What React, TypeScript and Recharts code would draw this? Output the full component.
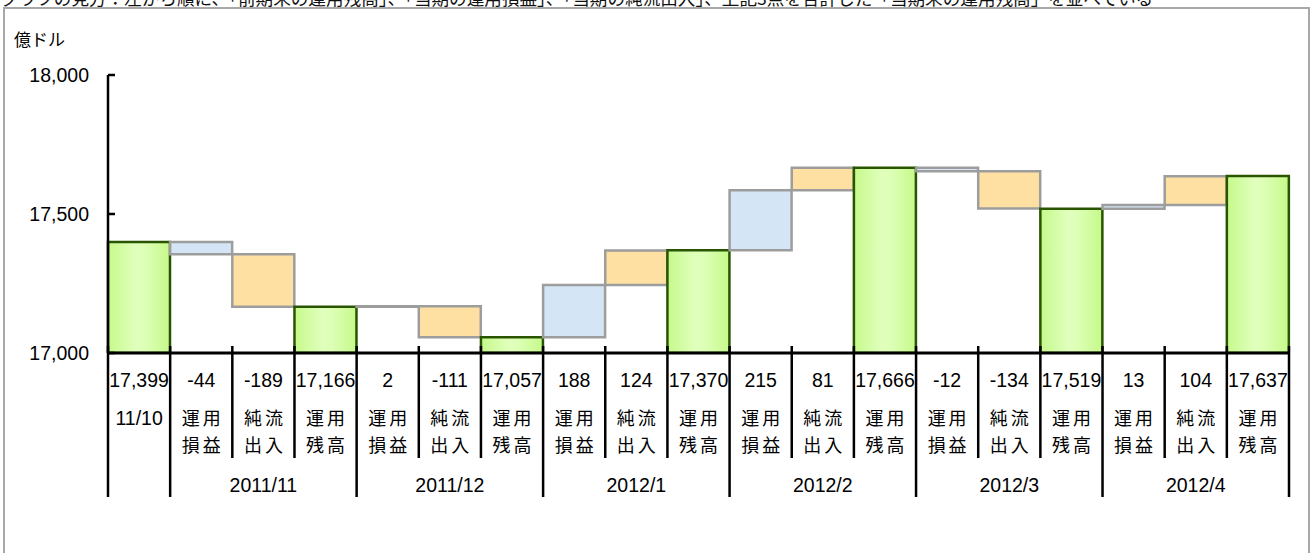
import React from "react";
import { BarChart, Bar, XAxis, YAxis, Cell } from "recharts";

// 運用残高の推移（億ドル）
const startLabel = "11/10";
const startBalance = 17399;
const months = ["2011/11", "2011/12", "2012/1", "2012/2", "2012/3", "2012/4"];
const gains = [-44, 2, 188, 215, -12, 13]; // 運用損益
const netFlows = [-189, -111, 124, 81, -134, 104]; // 純流出入
const endBalances = [17166, 17057, 17370, 17666, 17519, 17637]; // 運用残高
const yTicks = [17000, 17500, 18000];

const caption =
  "グラフの見方：左から順に、「前期末の運用残高」、「当期の運用損益」、「当期の純流出入」、上記3点を合計した「当期末の運用残高」を並べている";

const BASE = yTicks[0];
const NUM_FONT = "'Liberation Sans', Arial, sans-serif";
const JP_FONT = "'Noto Sans CJK JP', 'Noto Sans', sans-serif";

type Row = { key: string; kind: "balance" | "gain" | "flow"; value: number; range: [number, number]; lines: string[]; month?: string };

const rows: Row[] = [{ key: "start", kind: "balance", value: startBalance, range: [BASE, startBalance], lines: [startLabel] }];
let prev = startBalance;
months.forEach((m, i) => {
  const afterGain = prev + gains[i];
  const afterFlow = afterGain + netFlows[i];
  rows.push({ key: m + "-g", kind: "gain", value: gains[i], range: [Math.min(prev, afterGain), Math.max(prev, afterGain)], lines: ["運用", "損益"] });
  rows.push({ key: m + "-f", kind: "flow", value: netFlows[i], range: [Math.min(afterGain, afterFlow), Math.max(afterGain, afterFlow)], lines: ["純流", "出入"], month: m });
  rows.push({ key: m + "-b", kind: "balance", value: endBalances[i], range: [BASE, endBalances[i]], lines: ["運用", "残高"] });
  prev = endBalances[i];
});

const CHART_W = 1313;
const CHART_H = 553;
const LEFT = 108;
const RIGHT = 24;
const CAT_W = (CHART_W - LEFT - RIGHT) / rows.length;

const fmt = (r: Row) => (r.kind === "balance" ? r.value.toLocaleString("en-US") : String(r.value));

const fills = { balance: "url(#greenFill)", gain: "#d4e5f6", flow: "#ffe0a3" };
const strokes = { balance: "#2a5500", gain: "#9d9d9d", flow: "#9d9d9d" };

function TableTick(props: any) {
  const { x, y, payload } = props;
  const i = payload.index;
  const r = rows[i];
  const left = x - CAT_W / 2;
  const right = x + CAT_W / 2;
  const isLong = (k: number) => k === 0 || (k - 1) % 3 === 0 || k === rows.length;
  const edge = (ex: number, k: number) => (
    <line x1={ex} x2={ex} y1={y - 7} y2={y + (isLong(k) ? 144 : 105)} stroke="#000" strokeWidth={2.5} />
  );
  return (
    <g>
      {edge(left, i)}
      {i === rows.length - 1 && edge(right, i + 1)}
      <text x={x} y={y + 34} textAnchor="middle" fontFamily={NUM_FONT} fontSize={19.5} fill="#000">
        {fmt(r)}
      </text>
      {r.lines.map((t, k) => (
        <text
          key={k}
          x={x + (i === 0 ? 0 : 1.5)}
          y={y + 72 + k * 27}
          textAnchor="middle"
          fontFamily={i === 0 ? NUM_FONT : JP_FONT}
          fontSize={i === 0 ? 19.5 : 18}
          letterSpacing={i === 0 ? 0 : 3}
          fill="#000"
        >
          {t}
        </text>
      ))}
      {r.month && (
        <text x={x} y={y + 139} textAnchor="middle" fontFamily={NUM_FONT} fontSize={19.5} fill="#000">
          {r.month}
        </text>
      )}
    </g>
  );
}

function ValueTick(props: any) {
  const { y, payload } = props;
  return (
    <g>
      <text x={89} y={y} dy={7} textAnchor="end" fontFamily={NUM_FONT} fontSize={19.5} fill="#000">
        {payload.value.toLocaleString("en-US")}
      </text>
      <line x1={LEFT} x2={LEFT + 7} y1={y} y2={y} stroke="#000" strokeWidth={2.5} />
    </g>
  );
}

export default function App() {
  return (
    <div style={{ position: "absolute", left: 0, top: 0, width: CHART_W, height: CHART_H, overflow: "hidden", background: "#fff" }}>
      <div
        style={{
          position: "absolute",
          left: 1,
          top: -11,
          fontFamily: JP_FONT,
          fontSize: 17.6,
          lineHeight: "18px",
          whiteSpace: "nowrap",
          color: "#111",
        }}
      >
        {caption}
      </div>
      <div
        style={{
          position: "absolute",
          left: 3,
          top: 7,
          width: 1303,
          height: 600,
          border: "2px solid #a8a8a8",
          background: "#fff",
        }}
      />
      <div style={{ position: "absolute", left: 14, top: 26, fontFamily: JP_FONT, fontSize: 17, color: "#000" }}>億ドル</div>
      <div style={{ position: "absolute", left: 0, top: 0 }}>
        <BarChart
          width={CHART_W}
          height={CHART_H}
          data={rows}
          margin={{ top: 75, right: RIGHT, left: 0, bottom: 0 }}
          barCategoryGap={0}
          barGap={0}
        >
          <defs>
            <linearGradient id="greenFill" x1="0" y1="0" x2="1" y2="0">
              <stop offset="0%" stopColor="#c6f98a" />
              <stop offset="45%" stopColor="#e0ffbd" />
              <stop offset="60%" stopColor="#ddffb6" />
              <stop offset="100%" stopColor="#c6f98a" />
            </linearGradient>
          </defs>
          <YAxis
            width={LEFT}
            domain={[yTicks[0], yTicks[yTicks.length - 1]]}
            ticks={yTicks}
            allowDataOverflow
            axisLine={{ stroke: "#000", strokeWidth: 2.5 }}
            tickLine={false}
            tick={<ValueTick />}
          />
          <XAxis
            dataKey="key"
            height={200}
            interval={0}
            tickSize={0}
            tickMargin={0}
            tickLine={false}
            axisLine={{ stroke: "#000", strokeWidth: 3 }}
            tick={<TableTick />}
          />
          <Bar dataKey="range" isAnimationActive={false}>
            {rows.map((r) => (
              <Cell key={r.key} fill={fills[r.kind]} stroke={strokes[r.kind]} strokeWidth={2.5} />
            ))}
          </Bar>
        </BarChart>
      </div>
    </div>
  );
}
